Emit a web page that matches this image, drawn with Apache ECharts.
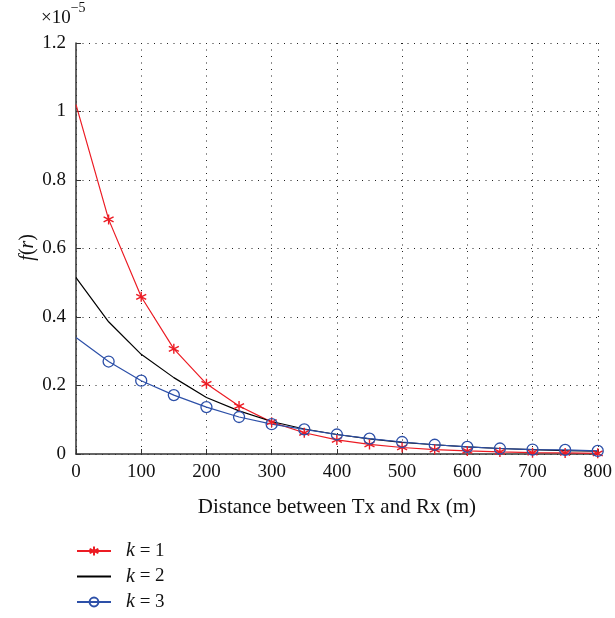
<!DOCTYPE html>
<html><head><meta charset="utf-8">
<script src="https://cdn.jsdelivr.net/npm/echarts@6/dist/echarts.min.js"></script>
<style>html,body{margin:0;padding:0;background:#fff}#c{width:615px;height:618px}</style>
</head><body><div id="c"></div>
<script>
// Distance (m)
const distance = [0,50,100,150,200,250,300,350,400,450,500,550,600,650,700,750,800];
// f(r) values in units of 1e-5
const k1 = [1.02,0.685,0.459,0.307,0.205,0.140,0.093,0.062,0.041,0.028,0.019,0.013,0.009,0.006,0.004,0.003,0.002];
const k2 = [0.515,0.386,0.291,0.223,0.165,0.126,0.095,0.073,0.057,0.044,0.034,0.027,0.021,0.016,0.013,0.010,0.008];
const k3 = [0.340,0.270,0.214,0.172,0.137,0.108,0.087,0.072,0.057,0.045,0.035,0.027,0.021,0.016,0.013,0.012,0.009];
const xTicks = [0,100,200,300,400,500,600,700,800];
const yTicks = [0,0.2,0.4,0.6,0.8,1,1.2];
const seriesNames = ['1','2','3'];

const FONT = '"Liberation Serif", "DejaVu Serif", serif';
// first point (r = 0) carries no marker in the reference
const toPairs = ys => distance.map((d,i)=> i===0 ? {value:[d, ys[i]], symbol:'none'} : [d, ys[i]]);
const RED = '#ec1c24', BLUE = '#2d50a8', BLACK = '#000';
const star = 'path://M0,-5L0,5M-4.33,-2.5L4.33,2.5M-4.33,2.5L4.33,-2.5';

const chart = echarts.init(document.getElementById('c'));
chart.setOption({
  animation:false,
  backgroundColor:'#fff',
  textStyle:{fontFamily:FONT},
  grid:{left:76,right:16,top:43,bottom:164},
  xAxis:{type:'value',min:xTicks[0],max:xTicks[xTicks.length-1],interval:100,
    name:'Distance between Tx and Rx (m)',nameLocation:'middle',nameGap:43,
    nameTextStyle:{fontFamily:FONT,fontSize:21,color:'#111'},
    axisLine:{show:true,lineStyle:{color:'#333',width:1.5}},
    axisTick:{show:true,inside:true,length:5,lineStyle:{color:'#333'}},
    axisLabel:{fontFamily:FONT,fontSize:19,color:'#111',margin:9},
    splitLine:{show:true,lineStyle:{color:'#222',type:[1,5.5],width:1}}},
  yAxis:{type:'value',min:yTicks[0],max:yTicks[yTicks.length-1],interval:0.2,
    axisLine:{show:true,lineStyle:{color:'#333',width:1.5}},
    axisTick:{show:true,inside:true,length:5,lineStyle:{color:'#333'}},
    axisLabel:{fontFamily:FONT,fontSize:19,color:'#111',margin:10},
    splitLine:{show:true,lineStyle:{color:'#222',type:[1,5.5],width:1}}},
  graphic:[
    {type:'text',left:41,top:1,style:{text:'{a|×10}{b|−5}',fill:'#111',
      rich:{a:{fontFamily:FONT,fontSize:19,verticalAlign:'bottom',padding:[8,0,0,0]},b:{fontFamily:FONT,fontSize:14,verticalAlign:'top'}}}},
    {type:'text',left:18,top:234,rotation:Math.PI/2,style:{text:'{i|f}({i|r})',fill:'#111',
      rich:{i:{fontFamily:FONT,fontSize:20,fontStyle:'italic'}},font:'20px '+FONT}}
  ],
  legend:{orient:'vertical',left:76,top:541,height:78,itemWidth:34,itemHeight:11,itemGap:5.5,padding:[0,0,0,0],
    textStyle:{fontFamily:FONT,fontSize:19,color:'#111',lineHeight:20,
      rich:{i:{fontFamily:FONT,fontSize:20,fontStyle:'italic',padding:[0,0,0,10],lineHeight:20},n:{fontFamily:FONT,fontSize:19,lineHeight:20}}},
    formatter:n=>'{i|k} {n|= '+n.split('=')[1].trim()+'}',
    data:[{name:'k = '+seriesNames[0]},{name:'k = '+seriesNames[1],itemStyle:{opacity:0}},{name:'k = '+seriesNames[2]}]},
  series:[
    {name:'k = '+seriesNames[0],type:'line',data:toPairs(k1),
      symbol:star,symbolSize:10,showAllSymbol:true,
      lineStyle:{color:RED,width:1.2},
      itemStyle:{color:RED,borderColor:RED,borderWidth:1.4}},
    {name:'k = '+seriesNames[1],type:'line',data:toPairs(k2),symbol:'none',
      lineStyle:{color:BLACK,width:1.2},itemStyle:{color:BLACK}},
    {name:'k = '+seriesNames[2],type:'line',data:toPairs(k3),symbol:'circle',symbolSize:11,showAllSymbol:true,
      lineStyle:{color:BLUE,width:1.2},
      itemStyle:{color:'rgba(255,255,255,0)',borderColor:BLUE,borderWidth:1.3}}
  ]
});
</script></body></html>
